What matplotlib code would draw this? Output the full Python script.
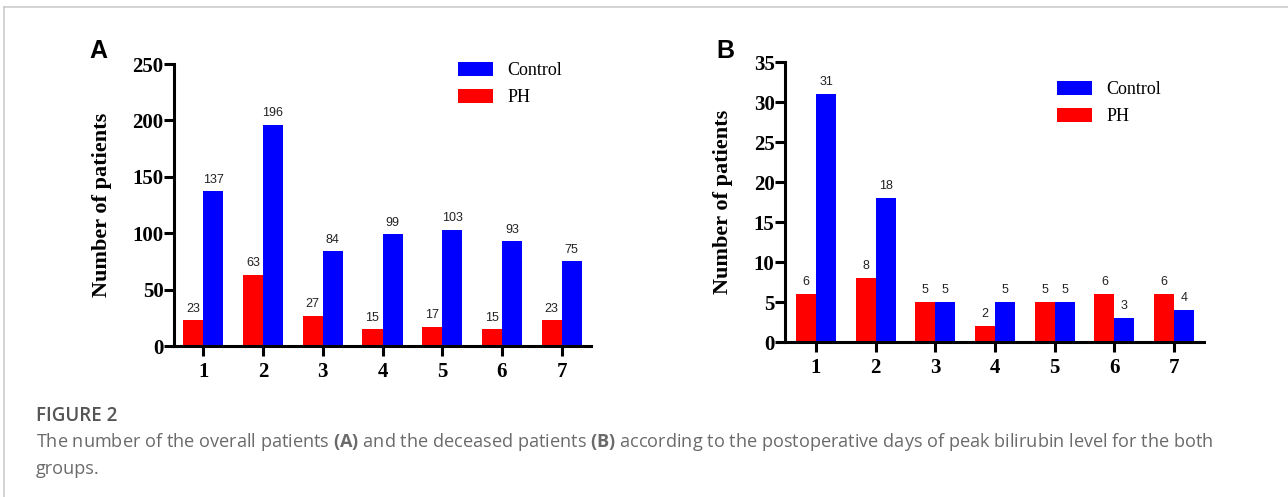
import matplotlib
matplotlib.use("Agg")
import matplotlib.pyplot as plt
import numpy as np
from matplotlib.lines import Line2D

# ---- data ----
days = [1, 2, 3, 4, 5, 6, 7]
overall_ph = [23, 63, 27, 15, 17, 15, 23]
overall_control = [137, 196, 84, 99, 103, 93, 75]
deceased_ph = [6, 8, 5, 2, 5, 6, 6]
deceased_control = [31, 18, 5, 5, 5, 3, 4]
yticks_a = [0, 50, 100, 150, 200, 250]
yticks_b = [0, 5, 10, 15, 20, 25, 30, 35]

plt.rcParams["mathtext.fontset"] = "custom"
plt.rcParams["mathtext.bf"] = "Open Sans:bold"
plt.rcParams["mathtext.rm"] = "Open Sans"

W, H = 1288, 497
fig = plt.figure(figsize=(W / 100, H / 100), dpi=100)
fig.patch.set_facecolor("white")

RED = "#ff0000"
BLUE = "#0000ff"
SERIF = "Liberation Serif"
SANS = "Liberation Sans"


def px_axes(left, right, top, bottom):
    return fig.add_axes([left / W, 1 - bottom / H, (right - left) / W, (bottom - top) / H])


def panel(ax, ph, ctrl, yticks, xlim, legend_xy, ylabel_x):
    x = np.array(days, dtype=float)
    bw = 0.335
    ax.bar(x - bw / 2, ph, width=bw, color=RED, label="PH", zorder=2)
    ax.bar(x + bw / 2, ctrl, width=bw, color=BLUE, label="Control", zorder=2)
    for xi, v in zip(x - bw / 2, ph):
        ax.annotate(str(v), (xi, v), xytext=(0, 4), textcoords="offset points",
                    ha="center", va="bottom", fontsize=9, family=SANS, color="#222222")
    for xi, v in zip(x + bw / 2, ctrl):
        ax.annotate(str(v), (xi, v), xytext=(0, 4), textcoords="offset points",
                    ha="center", va="bottom", fontsize=9, family=SANS, color="#222222")
    ax.set_xlim(*xlim)
    ax.set_ylim(yticks[0], yticks[-1])
    ax.set_yticks(yticks)
    ax.set_xticks(days)
    ax.set_xticklabels([str(d) for d in days])
    for s in ["top", "right"]:
        ax.spines[s].set_visible(False)
    for s in ["left", "bottom"]:
        ax.spines[s].set_linewidth(2.2)
        ax.spines[s].set_color("black")
    ax.tick_params(axis="both", width=2.2, length=7.5, direction="out", color="black")
    for lab in ax.get_xticklabels() + ax.get_yticklabels():
        lab.set_family(SERIF)
        lab.set_fontweight("bold")
        lab.set_fontsize(15)
    ax.tick_params(axis="y", pad=0)
    ax.tick_params(axis="x", pad=4)
    ax.set_ylabel("Number of patients", family=SERIF, fontweight="bold", fontsize=16)
    ax.yaxis.set_label_coords(ylabel_x, 0.5)
    handles, labels = ax.get_legend_handles_labels()
    lx, ly = legend_xy
    ax.legend(handles[::-1], labels[::-1], loc="upper left",
              bbox_to_anchor=(lx / W, 1 - ly / H), bbox_transform=fig.transFigure,
              frameon=False, borderpad=0, borderaxespad=0,
              prop={"family": SERIF, "size": 13},
              handlelength=1.94, handleheight=0.78, handletextpad=0.8,
              labelspacing=0.57)


axA = px_axes(174, 591, 64, 346)
panel(axA, overall_ph, overall_control, yticks_a, (0.51, 7.49), (458, 62),
      (112 - 174) / 417)

axB = px_axes(785, 1204, 62, 342)
panel(axB, deceased_ph, deceased_control, yticks_b, (0.48, 7.5), (1057, 81),
      (733 - 785) / 419)

# panel letters
fig.text(89 / W, 1 - 58 / H, "A", family=SANS, fontweight="bold", fontsize=18,
         va="baseline", ha="left")
fig.text(716 / W, 1 - 58 / H, "B", family=SANS, fontweight="bold", fontsize=18,
         va="baseline", ha="left")

# frame lines
fig.add_artist(Line2D([4 / W, 1], [1 - 7 / H, 1 - 7 / H], color="#c8c8c8", lw=1.1,
                      transform=fig.transFigure))
fig.add_artist(Line2D([4 / W, 4 / W], [0, 1 - 7 / H], color="#c8c8c8", lw=1.1,
                      transform=fig.transFigure))

# caption
fig.text(36 / W, 1 - 416 / H, "FIGURE 2", family="Open Sans", fontweight="semibold",
         fontsize=13.5, color="#555555", va="center", ha="left")
fig.text(36 / W, 1 - 442 / H,
         "The number of the overall patients $\\bf{(A)}$ and the deceased patients "
         "$\\bf{(B)}$ according to the postoperative days of peak bilirubin level for the both",
         family="Open Sans", fontsize=13.1, color="#6a6a6a", va="center", ha="left")
fig.text(36 / W, 1 - 469 / H, "groups.", family="Open Sans", fontsize=13.1,
         color="#6a6a6a", va="center", ha="left")

fig.savefig("out.png", dpi=100, facecolor="white")
